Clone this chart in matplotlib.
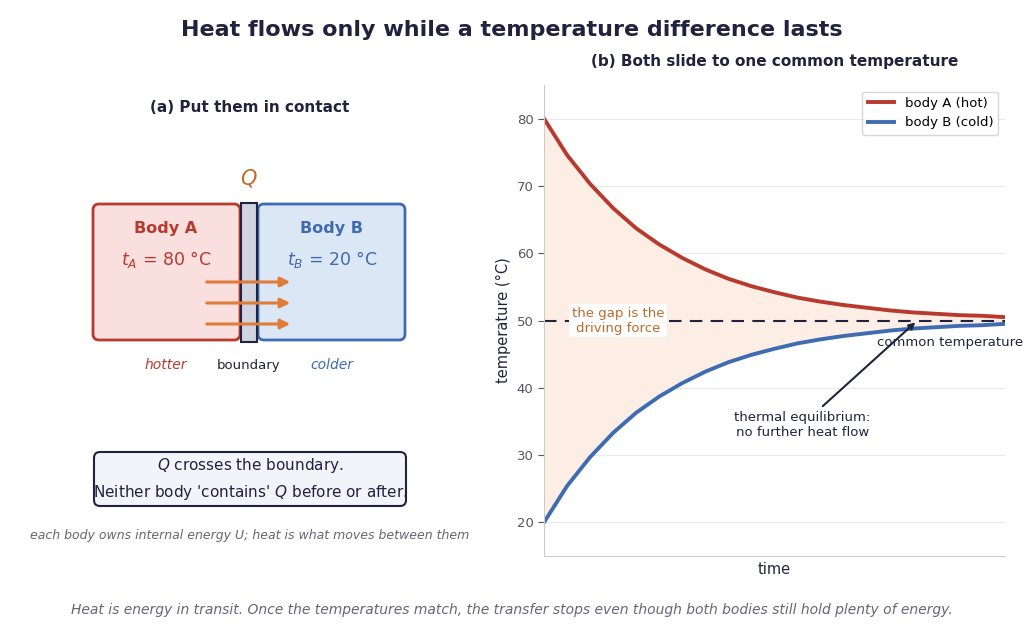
import matplotlib
matplotlib.use("Agg")
import matplotlib.pyplot as plt
from matplotlib.patches import FancyBboxPatch, Rectangle

time = [0.00,0.05,0.10,0.15,0.20,0.25,0.30,0.35,0.40,0.45,0.50,0.55,0.60,0.65,0.70,0.75,0.80,0.85,0.90,0.95,1.00]
temp_a = [80.0,74.6,70.3,66.7,63.7,61.3,59.3,57.6,56.2,55.1,54.2,53.4,52.8,52.3,51.9,51.5,51.2,51.0,50.8,50.7,50.5]
temp_b = [20.0,25.4,29.7,33.3,36.3,38.7,40.7,42.4,43.8,44.9,45.8,46.6,47.2,47.7,48.1,48.5,48.8,49.0,49.2,49.3,49.5]
t_eq = 50
t_hot, t_cold = 80, 20

RED = "#b83a2e"; BLUE = "#3f6cb0"; ORANGE = "#e07b39"; NAVY = "#22223f"; GRAY = "#666677"

fig = plt.figure(figsize=(10.24, 6.37), dpi=100)
ov = fig.add_axes([0, 0, 1, 1]); ov.set_xlim(0, 1024); ov.set_ylim(637, 0); ov.axis("off")

ov.text(512, 30, "Heat flows only while a temperature difference lasts", ha="center", va="center",
        fontsize=16, fontweight="bold", color=NAVY)
ov.text(250, 107, "(a) Put them in contact", ha="center", va="center", fontsize=11, fontweight="bold", color=NAVY)
ov.add_patch(FancyBboxPatch((93, 204), 147, 136, boxstyle="round,pad=0,rounding_size=6",
                            fc="#fadfdf", ec=RED, lw=2))
ov.add_patch(FancyBboxPatch((258, 204), 147, 136, boxstyle="round,pad=0,rounding_size=6",
                            fc="#dce7f5", ec=BLUE, lw=2))
ov.add_patch(Rectangle((241, 203), 16, 139, fc="#d0d3e0", ec=NAVY, lw=1.5))
ov.text(166, 228, "Body A", ha="center", va="center", fontsize=11.5, fontweight="bold", color=RED)
ov.text(332, 228, "Body B", ha="center", va="center", fontsize=11.5, fontweight="bold", color=BLUE)
ov.text(166, 260, rf"$t_A$ = {t_hot} °C", ha="center", va="center", fontsize=12.5, color=RED)
ov.text(332, 260, rf"$t_B$ = {t_cold} °C", ha="center", va="center", fontsize=12.5, color=BLUE)
for yy in (282, 303, 324):
    ov.annotate("", xy=(293, yy), xytext=(204, yy),
                arrowprops=dict(arrowstyle="-|>", color=ORANGE, lw=2.2, mutation_scale=14))
ov.text(249, 178, "$Q$", ha="center", va="center", fontsize=15, color="#c0692b")
ov.text(166, 365, "hotter", ha="center", va="center", fontsize=10, style="italic", color=RED)
ov.text(249, 365, "boundary", ha="center", va="center", fontsize=9.5, color=NAVY)
ov.text(332, 365, "colder", ha="center", va="center", fontsize=10, style="italic", color=BLUE)
ov.add_patch(FancyBboxPatch((94, 452), 312, 54, boxstyle="round,pad=0,rounding_size=6",
                            fc="#f3f4f9", ec=NAVY, lw=1.5))
ov.text(250, 479, "$Q$ crosses the boundary.\nNeither body 'contains' $Q$ before or after.",
        ha="center", va="center", fontsize=11, color=NAVY, linespacing=1.6)
ov.text(250, 536, "each body owns internal energy U; heat is what moves between them",
        ha="center", va="center", fontsize=9, style="italic", color=GRAY)
ov.text(512, 610, "Heat is energy in transit. Once the temperatures match, the transfer stops even though both bodies still hold plenty of energy.",
        ha="center", va="center", fontsize=10, style="italic", color=GRAY)

ax = fig.add_axes([544/1024, 1-556/637, 461/1024, 471/637])
ax.fill_between(time, temp_b, temp_a, color="#fdeee5", lw=0)
ax.plot(time, temp_a, color=RED, lw=2.8, label="body A (hot)")
ax.plot(time, temp_b, color=BLUE, lw=2.8, label="body B (cold)")
ax.axhline(t_eq, color=NAVY, lw=1.5, ls=(0, (6, 4)))
ax.set_xlim(0, 1); ax.set_ylim(15, 85)
ax.set_yticks([20, 30, 40, 50, 60, 70, 80]); ax.set_xticks([])
ax.grid(axis="y", color="#e8e8ee", lw=0.8)
ax.set_axisbelow(True)
for s in ("top", "right"):
    ax.spines[s].set_visible(False)
for s in ("left", "bottom"):
    ax.spines[s].set_color("#cccccc")
ax.tick_params(axis="y", colors="#555566", labelsize=9.5, length=4)
ax.set_xlabel("time", fontsize=10.5, color=NAVY)
ax.set_ylabel("temperature (°C)", fontsize=10.5, color=NAVY)
ax.set_title("(b) Both slide to one common temperature", fontsize=11, fontweight="bold", color=NAVY, pad=14)
ax.legend(loc="upper right", fontsize=9.5, frameon=True, edgecolor="#cccccc")
ax.text(0.16, 50, "the gap is the\ndriving force", ha="center", va="center", fontsize=9.5, color="#c0692b",
        bbox=dict(fc="white", ec="none", pad=2))
ax.text(0.88, 46.8, "common temperature", ha="center", va="center", fontsize=9.5, color=NAVY)
ax.annotate("thermal equilibrium:\nno further heat flow", xy=(0.81, 50), xytext=(0.56, 34.5),
            ha="center", va="center", fontsize=9.5, color=NAVY,
            arrowprops=dict(arrowstyle="-|>", color=NAVY, lw=1.5))

fig.savefig("out.png", dpi=100, facecolor="white")
